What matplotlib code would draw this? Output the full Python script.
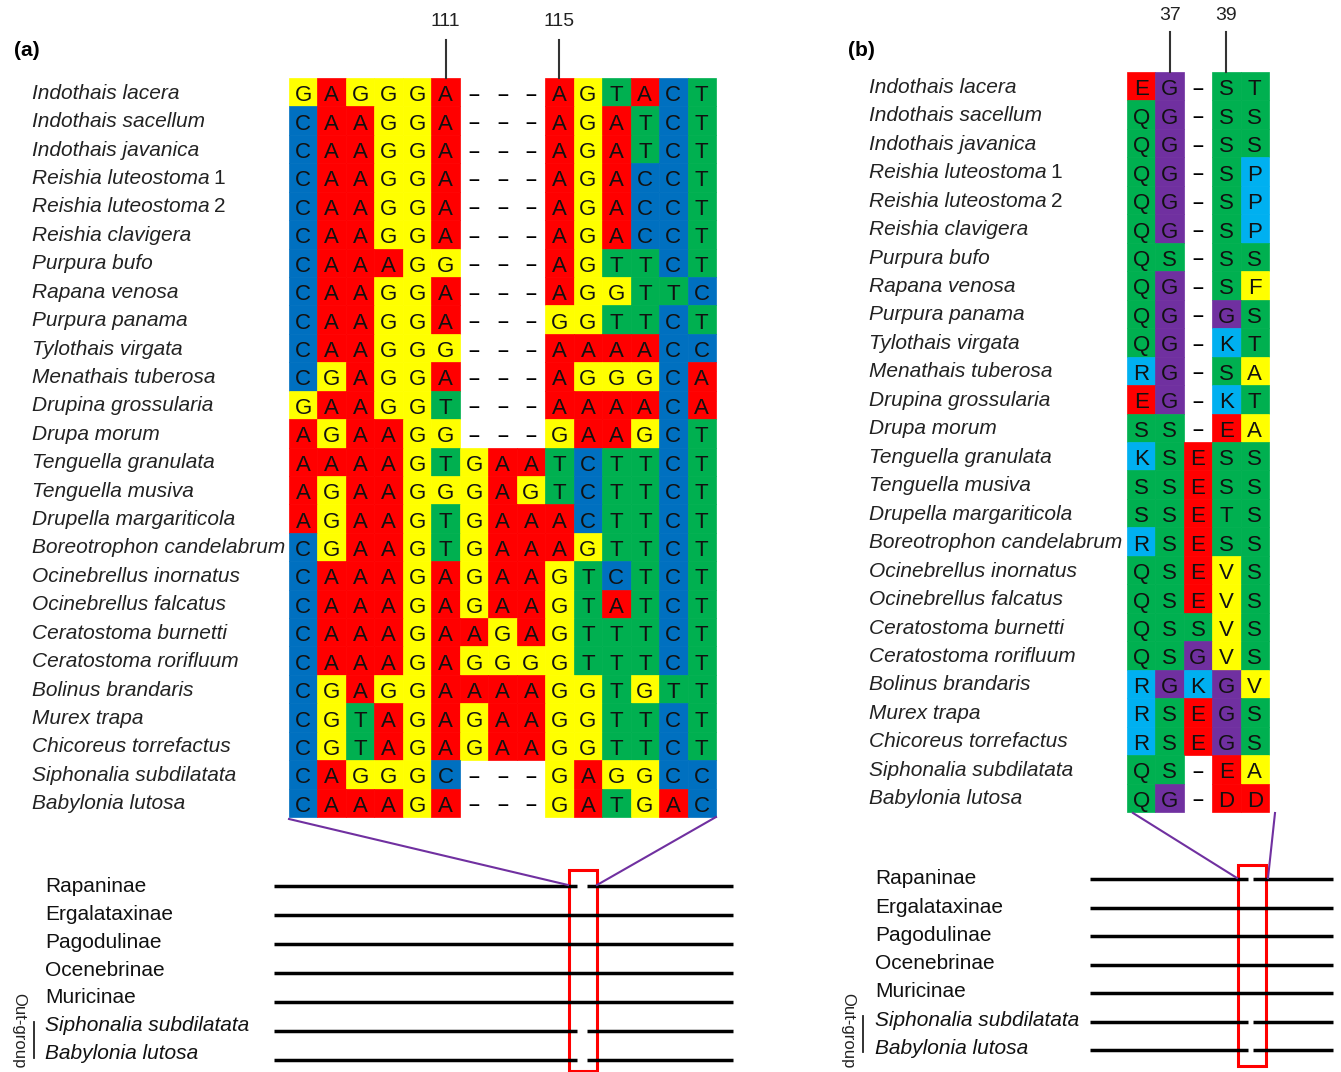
# Indel alignment figure: (a) nucleotides, (b) amino acids

import matplotlib.pyplot as plt
from matplotlib.patches import Rectangle

plt.rcParams['font.family'] = ['Liberation Sans', 'DejaVu Sans']

# Data
species = ['Indothais lacera', 'Indothais sacellum', 'Indothais javanica',
           'Reishia luteostoma 1', 'Reishia luteostoma 2', 'Reishia clavigera',
           'Purpura bufo', 'Rapana venosa', 'Purpura panama', 'Tylothais virgata',
           'Menathais tuberosa', 'Drupina grossularia', 'Drupa morum',
           'Tenguella granulata', 'Tenguella musiva', 'Drupella margariticola',
           'Boreotrophon candelabrum', 'Ocinebrellus inornatus',
           'Ocinebrellus falcatus', 'Ceratostoma burnetti', 'Ceratostoma rorifluum',
           'Bolinus brandaris', 'Murex trapa', 'Chicoreus torrefactus',
           'Siphonalia subdilatata', 'Babylonia lutosa']

nuc_seqs = ['GAGGGA---AGTACT', 'CAAGGA---AGATCT', 'CAAGGA---AGATCT',
            'CAAGGA---AGACCT', 'CAAGGA---AGACCT', 'CAAGGA---AGACCT',
            'CAAAGG---AGTTCT', 'CAAGGA---AGGTTC', 'CAAGGA---GGTTCT',
            'CAAGGG---AAAACC', 'CGAGGA---AGGGCA', 'GAAGGT---AAAACA',
            'AGAAGG---GAAGCT', 'AAAAGTGAATCTTCT', 'AGAAGGGAGTCTTCT',
            'AGAAGTGAAACTTCT', 'CGAAGTGAAAGTTCT', 'CAAAGAGAAGTCTCT',
            'CAAAGAGAAGTATCT', 'CAAAGAAGAGTTTCT', 'CAAAGAGGGGTTTCT',
            'CGAGGAAAAGGTGTT', 'CGTAGAGAAGGTTCT', 'CGTAGAGAAGGTTCT',
            'CAGGGC---GAGGCC', 'CAAAGA---GATGAC']

aa_seqs = ['EG-ST', 'QG-SS', 'QG-SS', 'QG-SP', 'QG-SP', 'QG-SP', 'QS-SS',
           'QG-SF', 'QG-GS', 'QG-KT', 'RG-SA', 'EG-KT', 'SS-EA', 'KSESS',
           'SSESS', 'SSETS', 'RSESS', 'QSEVS', 'QSEVS', 'QSSVS', 'QSGVS',
           'RGKGV', 'RSEGS', 'RSEGS', 'QS-EA', 'QG-DD']

nuc_mark_cols = [5, 9]
nuc_mark_labels = ['111', '115']
aa_mark_cols = [1, 3]
aa_mark_labels = ['37', '39']

groups = ['Rapaninae', 'Ergalataxinae', 'Pagodulinae', 'Ocenebrinae',
          'Muricinae', 'Siphonalia subdilatata', 'Babylonia lutosa']
group_gap = [True, False, False, False, False, True, True]
group_italic = [False, False, False, False, False, True, True]

RED = '#ff0000'
YEL = '#ffff00'
BLU = '#0070c0'
GRN = '#00b050'
PUR = '#7030a0'
CYA = '#00b0f0'
nuc_colors = {'A': RED, 'G': YEL, 'C': BLU, 'T': GRN}
aa_colors = {'E': RED, 'D': RED, 'G': PUR, 'Q': GRN, 'S': GRN, 'T': GRN,
             'R': CYA, 'K': CYA, 'P': CYA, 'F': YEL, 'A': YEL, 'V': YEL}

fig = plt.figure(figsize=(13.41, 10.72), dpi=100)
ax = fig.add_axes([0, 0, 1, 1])
ax.set_xlim(0, 1341)
ax.set_ylim(1072, 0)
ax.axis('off')


def draw_name(x, y, name):
    parts = name.rsplit(' ', 1)
    if parts[-1].isdigit():
        t = ax.text(x, y, parts[0], style='italic', fontsize=15,
                    ha='left', va='center', color='#222222')
        ax.annotate(parts[1], xy=(1, 0), xycoords=t, xytext=(3, 0),
                    textcoords='offset points', fontsize=15,
                    ha='left', va='bottom', color='#222222')
    else:
        ax.text(x, y, name, style='italic', fontsize=15,
                ha='left', va='center', color='#222222')


def draw_alignment(seqs, colors, x0, y0, cw, rh, name_x, mark_cols, mark_labels,
                   mark_top, label_y):
    for i, seq in enumerate(seqs):
        yc = y0 + (i + 0.5) * rh
        draw_name(name_x, yc + 1, species[i])
        for j, ch in enumerate(seq):
            xc = x0 + (j + 0.5) * cw
            if ch == '-':
                ax.text(xc, yc + 1, '\u2013', fontsize=14, fontweight='bold',
                        ha='center', va='center_baseline', color='black')
                continue
            c = colors[ch]
            ax.add_patch(Rectangle((x0 + j * cw, y0 + i * rh), cw, rh,
                                   facecolor=c, edgecolor=c, lw=0.5))
            ax.text(xc, yc + 1, ch, fontsize=16, ha='center',
                    va='center_baseline', color='#111111')
    for col, lab in zip(mark_cols, mark_labels):
        xc = x0 + (col + 0.5) * cw
        ax.plot([xc, xc], [mark_top, y0], color='#333333', lw=1.5)
        ax.text(xc, label_y, lab, fontsize=14, ha='center', va='center',
                color='#222222')


def draw_schematic(label_x, label_y0, label_dy, line_x0, line_x1, line_y0,
                   line_dy, gap_x0, gap_x1, box_x0, box_x1, box_y0, box_y1,
                   og_x, og_line_x, og_y0, og_y1):
    for k, g in enumerate(groups):
        ly = label_y0 + k * label_dy
        ax.text(label_x, ly, g, fontsize=15, ha='left', va='center',
                style='italic' if group_italic[k] else 'normal', color='#111111')
        y = line_y0 + k * line_dy
        if group_gap[k]:
            ax.plot([line_x0, gap_x0], [y, y], color='black', lw=2.5,
                    solid_capstyle='butt')
            ax.plot([gap_x1, line_x1], [y, y], color='black', lw=2.5,
                    solid_capstyle='butt')
        else:
            ax.plot([line_x0, line_x1], [y, y], color='black', lw=2.5,
                    solid_capstyle='butt')
    ax.add_patch(Rectangle((box_x0, box_y0), box_x1 - box_x0, box_y1 - box_y0,
                           fill=False, edgecolor='#ff0000', lw=2.2))
    ax.text(og_x, og_y0, 'Out-group', fontsize=12, rotation=270,
            ha='center', va='top', color='#222222')
    ax.plot([og_line_x, og_line_x], [og_y1 - 36, og_y1], color='#222222', lw=1.3)


# Panel (a)
ax.text(14, 50, '(a)', fontsize=15, fontweight='bold', ha='left', va='center')
a_x0, a_y0 = 289, 78
a_cw = (716 - 289) / 15
a_rh = (817 - 78) / 26
draw_alignment(nuc_seqs, nuc_colors, a_x0, a_y0, a_cw, a_rh, 32,
               nuc_mark_cols, nuc_mark_labels, 40, 22)
draw_schematic(45, 887, 27.7, 274, 733, 886, 29, 577, 587,
               569, 597, 870, 1071, 19, 34, 993, 1058)
ax.plot([a_x0, 568], [819, 885], color=PUR, lw=1.5)
ax.plot([716, 597], [817, 885], color=PUR, lw=1.5)

# Panel (b)
ax.text(848, 50, '(b)', fontsize=15, fontweight='bold', ha='left', va='center')
b_x0, b_y0 = 1127, 72
b_cw = (1269 - 1127) / 5
b_rh = (812 - 72) / 26
draw_alignment(aa_seqs, aa_colors, b_x0, b_y0, b_cw, b_rh, 869,
               aa_mark_cols, aa_mark_labels, 32, 16)
draw_schematic(875, 879, 28.2, 1090, 1333, 879, 28.5, 1248, 1253,
               1238, 1266, 865, 1066, 848, 863, 993, 1052)
ax.plot([1133, 1237], [813, 878], color=PUR, lw=1.5)
ax.plot([1275, 1268], [813, 878], color=PUR, lw=1.5)

fig.savefig('out.png', dpi=100)
